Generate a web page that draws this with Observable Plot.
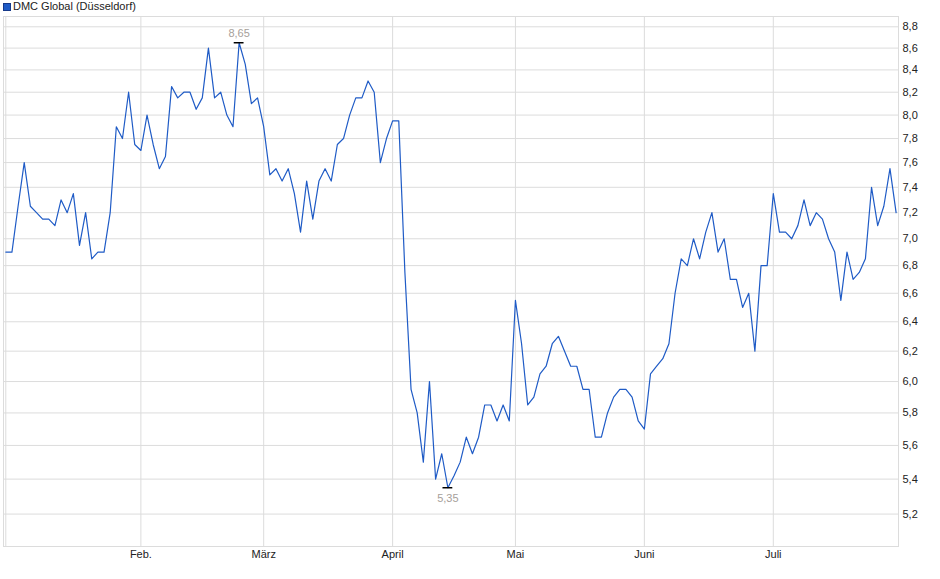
<!DOCTYPE html>
<html>
<head>
<meta charset="utf-8">
<script src="https://cdn.jsdelivr.net/npm/d3@7"></script>
<script src="https://cdn.jsdelivr.net/npm/@observablehq/plot@0.6"></script>
<style>
  html, body { margin: 0; padding: 0; background: #fff; }
  #legend { position: relative; height: 14px; font: 11px "Liberation Sans", Arial, sans-serif; }
  #legend .sw { position: absolute; left: 3px; top: 3px; width: 6px; height: 6px; background: #1f5bc6; border: 1px solid #16398a; }
  #legend .lb { position: absolute; left: 13px; top: 0; line-height: 13px; color: #222; }
</style>
</head>
<body>
<div id="legend"><span class="sw"></span><span class="lb">DMC Global (Düsseldorf)</span></div>
<div id="chart"></div>
<script>
// Closing prices per trading day (Jan 2 .. Jul 29)
const prices = [
  6.9, 6.9, 7.25, 7.6, 7.25, 7.2, 7.15, 7.15, 7.1, 7.3,
  7.2, 7.35, 6.95, 7.2, 6.85, 6.9, 6.9, 7.2, 7.9, 7.8,
  8.2, 7.75, 7.7, 8.0, 7.75, 7.55, 7.65, 8.25, 8.15, 8.2,
  8.2, 8.05, 8.15, 8.6, 8.15, 8.2, 8.0, 7.9, 8.65, 8.45,
  8.1, 8.15, 7.9, 7.5, 7.55, 7.45, 7.55, 7.35, 7.05, 7.45,
  7.15, 7.45, 7.55, 7.45, 7.75, 7.8, 8.0, 8.15, 8.15, 8.3,
  8.2, 7.6, 7.8, 7.95, 7.95, 6.75, 5.95, 5.8, 5.5, 6.0,
  5.4, 5.55, 5.35, 5.42, 5.5, 5.65, 5.55, 5.65, 5.85, 5.85,
  5.75, 5.85, 5.75, 6.55, 6.25, 5.85, 5.9, 6.05, 6.1, 6.25,
  6.3, 6.2, 6.1, 6.1, 5.95, 5.95, 5.65, 5.65, 5.8, 5.9,
  5.95, 5.95, 5.9, 5.75, 5.7, 6.05, 6.1, 6.15, 6.25, 6.6,
  6.85, 6.8, 7.0, 6.85, 7.05, 7.2, 6.9, 7.0, 6.7, 6.7,
  6.5, 6.6, 6.2, 6.8, 6.8, 7.35, 7.05, 7.05, 7.0, 7.1,
  7.3, 7.1, 7.2, 7.15, 7.0, 6.9, 6.55, 6.9, 6.7, 6.75,
  6.85, 7.4, 7.1, 7.25, 7.55, 7.2
];
// trading-day index of first trading day of each month
const monthTicks = [0, 22, 42, 63, 83, 104, 125];
const monthLabels = ["", "Feb.", "März", "April", "Mai", "Juni", "Juli"];
const yTicks = [5.2, 5.4, 5.6, 5.8, 6.0, 6.2, 6.4, 6.6, 6.8, 7.0, 7.2, 7.4, 7.6, 7.8, 8.0, 8.2, 8.4, 8.6, 8.8];

const data = prices.map((v, i) => ({i, v}));
const hi = data[d3.maxIndex(prices)];
const lo = data[d3.minIndex(prices)];
const fmt1 = v => v.toFixed(1).replace(".", ",");
const fmt2 = v => v.toFixed(2).replace(".", ",");
const grid = "#dcdcdc";

const chart = Plot.plot({
  width: 940,
  height: 565,
  marginLeft: 3,
  marginRight: 42,
  marginTop: 2,
  marginBottom: 33,
  style: {fontFamily: "'Liberation Sans', Arial, sans-serif", fontSize: "11px", color: "#222", background: "#fff", overflow: "visible"},
  x: {type: "linear", domain: [-0.375, 145.39], label: null},
  y: {type: "log", domain: [5.0211, 8.8985], label: null},
  marks: [
    Plot.gridX(monthTicks, {stroke: grid, strokeOpacity: 1}),
    Plot.gridY(yTicks, {stroke: grid, strokeOpacity: 1}),
    Plot.frame({stroke: grid}),
    Plot.axisX(monthTicks, {tickFormat: (d) => monthLabels[monthTicks.indexOf(d)], tickSize: 0, tickPadding: 4, label: null}),
    Plot.axisY(yTicks, {anchor: "right", tickFormat: fmt1, tickSize: 0, tickPadding: 4, label: null}),
    Plot.lineY(data, {x: "i", y: "v", stroke: "#1f5bc6", strokeWidth: 1.2}),
    Plot.ruleY([hi, lo], {y: "v", x1: d => d.i - 0.8, x2: d => d.i + 0.8, stroke: "#000", strokeWidth: 1.5}),
    Plot.text([hi], {x: "i", y: "v", text: d => fmt2(d.v), dy: -9, fill: "#a6a09a"}),
    Plot.text([lo], {x: "i", y: "v", text: d => fmt2(d.v), dy: 11, fill: "#a6a09a"})
  ]
});
document.getElementById("chart").appendChild(chart);
</script>
</body>
</html>
